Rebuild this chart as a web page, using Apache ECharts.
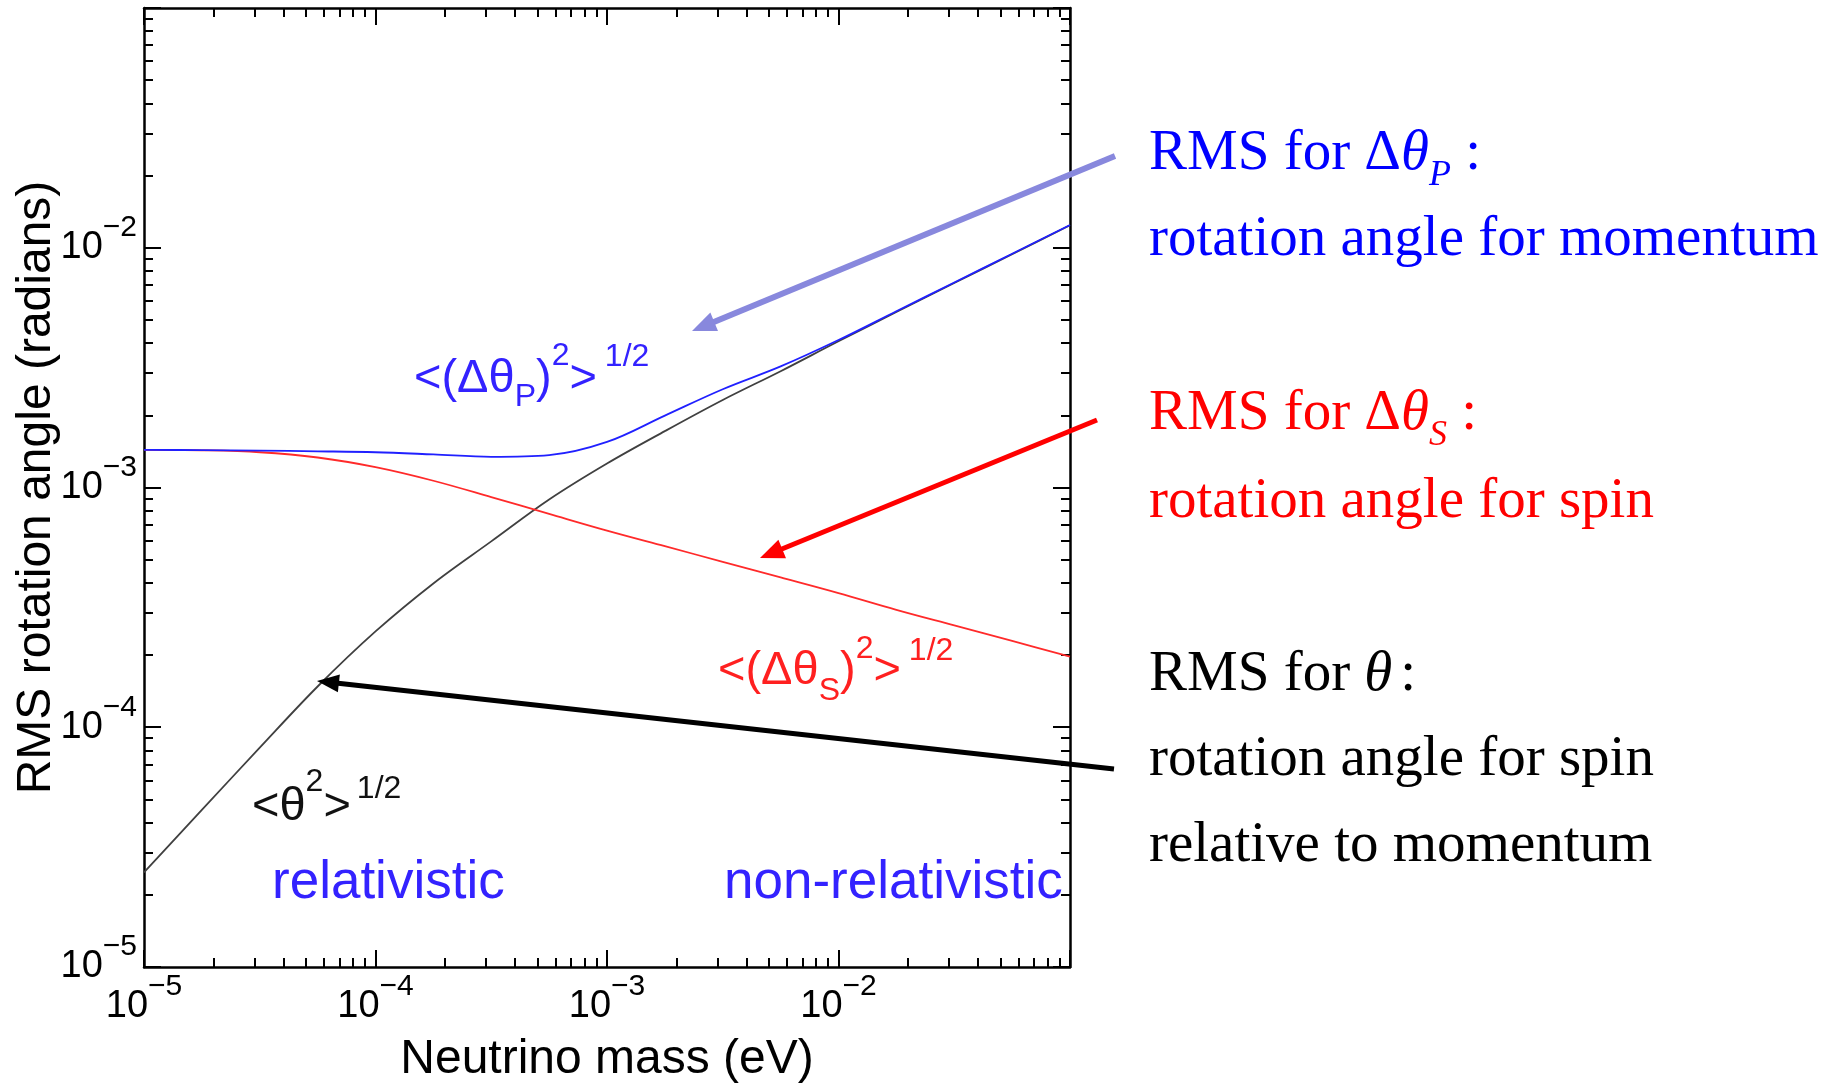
<!DOCTYPE html>
<html><head><meta charset="utf-8">
<script src="https://cdn.jsdelivr.net/npm/echarts@6/dist/echarts.min.js"></script>
<style>html,body{margin:0;padding:0;background:#fff}#c{width:1839px;height:1084px}</style>
</head><body><div id="c"></div>
<script>
// ---------------- data ----------------
const massEV = [1e-5, 1.778e-5, 3.162e-5, 5.623e-5, 1e-4, 1.778e-4, 3.162e-4, 5.623e-4,
                1e-3, 1.778e-3, 3.162e-3, 5.623e-3, 1e-2, 1.778e-2, 3.162e-2, 5.623e-2, 1e-1];
// <(Δθ_P)^2>^1/2  (blue)
const rmsThetaP = [1.435e-3, 1.432e-3, 1.426e-3, 1.416e-3, 1.403e-3, 1.374e-3, 1.343e-3, 1.365e-3,
                   1.549e-3, 1.995e-3, 2.570e-3, 3.199e-3, 4.121e-3, 5.433e-3, 7.161e-3, 9.441e-3, 1.245e-2];
// <(Δθ_S)^2>^1/2  (red)
const rmsThetaS = [1.435e-3, 1.429e-3, 1.403e-3, 1.334e-3, 1.216e-3, 1.067e-3, 9.12e-4, 7.76e-4,
                   6.61e-4, 5.69e-4, 4.90e-4, 4.22e-4, 3.63e-4, 3.09e-4, 2.66e-4, 2.29e-4, 1.97e-4];
// <θ^2>^1/2  (black)
const rmsTheta  = [2.48e-5, 4.52e-5, 8.22e-5, 1.479e-4, 2.51e-4, 3.98e-4, 5.96e-4, 8.91e-4,
                   1.259e-3, 1.718e-3, 2.317e-3, 3.055e-3, 4.074e-3, 5.395e-3, 7.129e-3, 9.397e-3, 1.242e-2];
// tick definitions
const decadeExponents = [-5, -4, -3, -2];
const minorMultipliers = [2, 3, 4, 5, 6, 7, 8, 9];
const labelledExponents = [-5, -4, -3, -2];
const axisMin = 1e-5, axisMax = 1e-1;

// ---------------- helpers ----------------
const SANS = 'Liberation Sans';
const SERIF = 'Liberation Serif';
const minorLogTicks = [];
decadeExponents.forEach(e => minorMultipliers.forEach(k => minorLogTicks.push(e + Math.log10(k))));

function powLabel(v) {
  const e = Math.round(Math.log10(v));
  if (labelledExponents.indexOf(e) < 0) return '';
  return '{b|10}{s|' + (e < 0 ? '\u2212' : '') + Math.abs(e) + '}';
}
const tickRich = {
  b: {fontSize: 38, fontFamily: SANS, color: '#000', padding: [16, 0, 16, 0]},
  s: {fontSize: 30, fontFamily: SANS, color: '#000', verticalAlign: 'top'}
};
const axisLineStyle = {color: '#000', width: 2.5};
const tickStyle = {color: '#000', width: 2};

function majorAxis(dim, pos, withLabels) {
  const a = {
    type: 'log', logBase: 10, min: axisMin, max: axisMax, position: pos,
    axisLine: {show: true, onZero: false, lineStyle: axisLineStyle},
    axisTick: {show: true, inside: true, length: 17, lineStyle: tickStyle},
    minorTick: {show: false}, splitLine: {show: false}, minorSplitLine: {show: false},
    axisLabel: {show: false}
  };
  if (withLabels) {
    a.axisLabel = {
      show: true, formatter: powLabel, rich: tickRich, showMaxLabel: false, showMinLabel: true,
      margin: dim === 'x' ? 5 : 7, hideOverlap: false
    };
    a.name = dim === 'x' ? 'Neutrino mass (eV)' : 'RMS rotation angle (radians)';
    a.nameLocation = 'middle';
    a.nameMoveOverlap = false;
    a.nameGap = dim === 'x' ? 69 : 83;
    a.nameTextStyle = {fontSize: 48, fontFamily: SANS, color: '#000'};
  }
  return a;
}
function minorAxis(pos) {
  return {
    type: 'value', min: -5, max: -1, position: pos,
    axisLine: {show: false},
    axisTick: {show: true, inside: true, length: 9, customValues: minorLogTicks, lineStyle: tickStyle},
    axisLabel: {show: false}, splitLine: {show: false}
  };
}

// text measurement for mixed-style annotations
const mctx = document.createElement('canvas').getContext('2d');
function fontStr(fam, size, italic) { return (italic ? 'italic' : 'normal') + ' normal ' + size + 'px "' + fam + '"'; }
function textRun(x, baseline, segs, color) {
  const els = [];
  let cx = x;
  segs.forEach(s => {
    cx += (s.gap || 0);
    const f = fontStr(s.fam, s.size, s.italic);
    mctx.font = f; mctx.textBaseline = 'alphabetic';
    const w = mctx.measureText(s.t).width;
    const m = mctx.measureText('Hg');
    const mid = (m.fontBoundingBoxAscent - m.fontBoundingBoxDescent) / 2;
    els.push({
      type: 'text', x: cx, y: baseline + (s.dy || 0) - mid, silent: true, z: 100,
      style: {text: s.t, font: f, fill: color, align: 'left', verticalAlign: 'middle',
              textAlign: 'left', textVerticalAlign: 'middle'}
    });
    cx += w;
  });
  return els;
}
function arrow(x1, y1, x2, y2, color, width, headLen, headW) {
  const dx = x2 - x1, dy = y2 - y1, L = Math.hypot(dx, dy), ux = dx / L, uy = dy / L;
  const bx = x2 - ux * headLen, by = y2 - uy * headLen, px = -uy, py = ux;
  return [
    {type: 'line', silent: true, z: 90, shape: {x1: x1, y1: y1, x2: bx + ux * 3, y2: by + uy * 3},
     style: {stroke: color, lineWidth: width}},
    {type: 'polygon', silent: true, z: 90,
     shape: {points: [[x2, y2], [bx + px * headW / 2, by + py * headW / 2], [bx - px * headW / 2, by - py * headW / 2]]},
     style: {fill: color}}
  ];
}

const BLUE_T = '#3322ff', RED_T = '#ff2020';
const S = (t, o) => Object.assign({t: t, fam: SANS, size: 47}, o || {});
const R = (t, o) => Object.assign({t: t, fam: SERIF, size: 57}, o || {});

let graphics = [];
// annotations inside the plot
graphics = graphics.concat(textRun(414, 396, [S('<(\u0394\u03b8'), S('P', {size: 32, dy: 12}), S(')'),
  S('2', {size: 32, dy: -29}), S('>'), S('1/2', {size: 32, dy: -28, gap: 8})], BLUE_T));
graphics = graphics.concat(textRun(718, 688, [S('<(\u0394\u03b8'), S('S', {size: 32, dy: 14}), S(')'),
  S('2', {size: 32, dy: -28}), S('>'), S('1/2', {size: 32, dy: -26, gap: 8})], RED_T));
graphics = graphics.concat(textRun(252, 824, [S('<\u03b8'), S('2', {size: 32, dy: -31}), S('>'),
  S('1/2', {size: 32, dy: -24, gap: 6})], '#111'));
graphics = graphics.concat(textRun(272, 902, [S('relativistic', {size: 53})], BLUE_T));
graphics = graphics.concat(textRun(724, 902, [S('non-relativistic', {size: 53})], BLUE_T));
// right-hand explanations
graphics = graphics.concat(textRun(1149, 174, [R('RMS for '), R('\u0394'), R('\u03b8', {italic: true}),
  R('P', {italic: true, size: 36, dy: 14}), R(' :')], '#0000ff'));
graphics = graphics.concat(textRun(1149, 260, [R('rotation angle for momentum')], '#0000ff'));
graphics = graphics.concat(textRun(1149, 434, [R('RMS for '), R('\u0394'), R('\u03b8', {italic: true}),
  R('S', {italic: true, size: 36, dy: 14}), R(' :')], '#ff0000'));
graphics = graphics.concat(textRun(1149, 522, [R('rotation angle for spin')], '#ff0000'));
graphics = graphics.concat(textRun(1149, 695, [R('RMS for '), R('\u03b8', {italic: true}), R(':', {gap: 8})], '#000'));
graphics = graphics.concat(textRun(1149, 780, [R('rotation angle for spin')], '#000'));
graphics = graphics.concat(textRun(1149, 866, [R('relative to momentum')], '#000'));
// arrows
graphics = graphics.concat(arrow(1115, 156, 692, 331, '#8888dd', 6, 24, 20));
graphics = graphics.concat(arrow(1097, 420, 760, 558, '#ff0000', 5, 24, 20));
graphics = graphics.concat(arrow(1114, 769, 317, 681, '#000000', 5, 22, 18));

const lineCommon = {type: 'line', xAxisIndex: 0, yAxisIndex: 0, symbol: 'none', smooth: 0.35};
const chart = echarts.init(document.getElementById('c'), null, {renderer: 'canvas'});
chart.setOption({
  animation: false,
  backgroundColor: '#fff',
  grid: {left: 144, top: 8, width: 926, height: 959, containLabel: false, outerBoundsMode: 'none', show: false},
  xAxis: [majorAxis('x', 'bottom', true), majorAxis('x', 'top', false), minorAxis('bottom'), minorAxis('top')],
  yAxis: [majorAxis('y', 'left', true), majorAxis('y', 'right', false), minorAxis('left'), minorAxis('right')],
  series: [
    Object.assign({name: 'theta', data: massEV.map((m, i) => [m, rmsTheta[i]]),
      lineStyle: {color: '#404040', width: 1.8}, z: 3}, lineCommon),
    Object.assign({name: 'dthetaS', data: massEV.map((m, i) => [m, rmsThetaS[i]]),
      lineStyle: {color: '#ff2a2a', width: 1.8}, z: 4}, lineCommon),
    Object.assign({name: 'dthetaP', data: massEV.map((m, i) => [m, rmsThetaP[i]]),
      lineStyle: {color: '#2020ff', width: 1.8}, z: 5}, lineCommon)
  ],
  graphic: {elements: graphics}
});
</script></body></html>
